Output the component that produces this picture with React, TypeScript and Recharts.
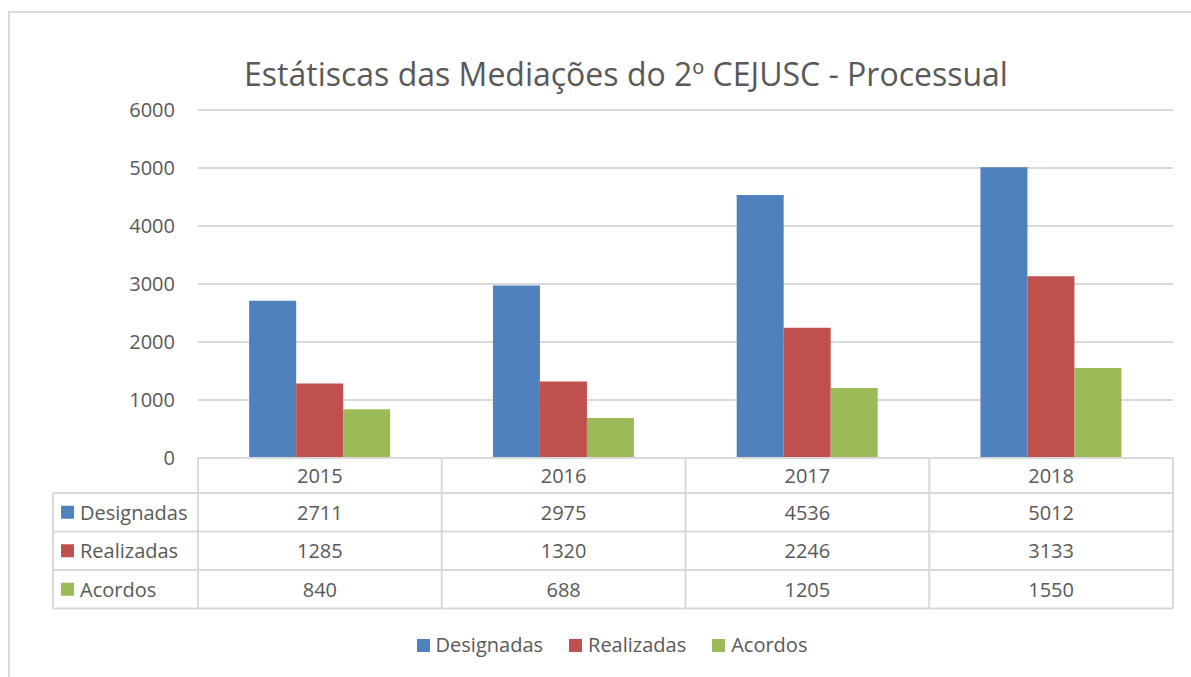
import React from 'react';
import { BarChart, Bar, XAxis, YAxis, CartesianGrid } from 'recharts';

const years = ['2015', '2016', '2017', '2018'];
const designadas = [2711, 2975, 4536, 5012];
const realizadas = [1285, 1320, 2246, 3133];
const acordos = [840, 688, 1205, 1550];
const yTicks = [0, 1000, 2000, 3000, 4000, 5000, 6000];

const SERIES = [
  { key: 'designadas', name: 'Designadas', color: '#4f81bd', values: designadas },
  { key: 'realizadas', name: 'Realizadas', color: '#c0504d', values: realizadas },
  { key: 'acordos', name: 'Acordos', color: '#9bbb59', values: acordos },
];

const data = years.map((year, i) => ({
  year,
  designadas: designadas[i],
  realizadas: realizadas[i],
  acordos: acordos[i],
}));

const FONT = "'Open Sans', Lato, sans-serif";
const TEXT = '#595959';
const LINE = '#d9d9d9';
const W = 1191;
const H = 677;
const PLOT_LEFT = 198;
const PLOT_RIGHT = 1173;
const COL_W = (PLOT_RIGHT - PLOT_LEFT) / years.length;
const HEADER_H = 35;
const ROW_H = 38.5;
const LABEL_LEFT = 53;
const FS = 20;

const TableTick = (props: any) => {
  const { x, y, payload, index } = props;
  const left = x - COL_W / 2;
  const right = x + COL_W / 2;
  const bottom = y + HEADER_H + ROW_H * SERIES.length;
  const rowTop = (r: number) => y + HEADER_H + ROW_H * r;
  return (
    <g>
      <line x1={right} y1={y} x2={right} y2={bottom} stroke={LINE} strokeWidth={2} />
      {index === 0 && <line x1={left} y1={y} x2={left} y2={bottom} stroke={LINE} strokeWidth={2} />}
      {SERIES.map((_, r) => (
        <line key={r} x1={left} y1={rowTop(r)} x2={right} y2={rowTop(r)} stroke={LINE} strokeWidth={2} />
      ))}
      <line x1={left} y1={bottom} x2={right} y2={bottom} stroke={LINE} strokeWidth={2} />
      <text x={x} y={y + HEADER_H / 2} textAnchor="middle" dominantBaseline="central" fill={TEXT} fontSize={FS} fontFamily={FONT}>
        {payload.value}
      </text>
      {SERIES.map((s, r) => (
        <text key={s.key} x={x} y={rowTop(r) + ROW_H / 2} textAnchor="middle" dominantBaseline="central" fill={TEXT} fontSize={FS} fontFamily={FONT}>
          {s.values[index]}
        </text>
      ))}
      {index === 0 && (
        <g>
          <line x1={LABEL_LEFT} y1={rowTop(0)} x2={LABEL_LEFT} y2={bottom} stroke={LINE} strokeWidth={2} />
          {SERIES.map((s, r) => (
            <g key={s.key}>
              <line x1={LABEL_LEFT} y1={rowTop(r)} x2={left} y2={rowTop(r)} stroke={LINE} strokeWidth={2} />
              <rect x={LABEL_LEFT + 8} y={rowTop(r) + ROW_H / 2 - 6.5} width={13} height={13} fill={s.color} />
              <text x={LABEL_LEFT + 27} y={rowTop(r) + ROW_H / 2} dominantBaseline="central" fill={TEXT} fontSize={FS} fontFamily={FONT}>
                {s.name}
              </text>
            </g>
          ))}
          <line x1={LABEL_LEFT} y1={bottom} x2={left} y2={bottom} stroke={LINE} strokeWidth={2} />
        </g>
      )}
    </g>
  );
};

export default function App() {
  return (
    <div style={{ position: 'fixed', left: 0, top: 0, width: W, height: H, overflow: 'hidden', background: '#fff', fontFamily: FONT }}>
      <div style={{ position: 'absolute', left: 8, top: 11, width: W, height: H, borderTop: `2px solid ${LINE}`, borderLeft: `2px solid ${LINE}` }} />
      <div style={{ position: 'absolute', left: 0, width: 1252, top: 51, textAlign: 'center', fontSize: 32, color: TEXT, lineHeight: '46px' }}>
        Estátiscas das Mediações do 2º CEJUSC - Processual
      </div>
      <div style={{ position: 'absolute', left: 0, top: 0 }}>
        <BarChart
          width={W}
          height={H}
          data={data}
          margin={{ top: 110, right: W - PLOT_RIGHT, left: PLOT_LEFT - 60, bottom: H - 458 - 151 }}
          barCategoryGap="21%"
          barGap={0}
        >
          <CartesianGrid vertical={false} stroke={LINE} strokeWidth={2} />
          <YAxis
            width={60}
            domain={[0, 6000]}
            ticks={yTicks}
            interval={0}
            axisLine={false}
            tickLine={false}
            tickSize={0}
            tickMargin={23}
            tick={{ fill: TEXT, fontSize: FS, fontFamily: FONT }}
          />
          <XAxis
            dataKey="year"
            height={151}
            interval={0}
            tickLine={false}
            tickSize={0}
            tickMargin={0}
            axisLine={{ stroke: LINE, strokeWidth: 2 }}
            tick={<TableTick />}
          />
          {SERIES.map((s) => (
            <Bar key={s.key} dataKey={s.key} name={s.name} fill={s.color} isAnimationActive={false} />
          ))}
        </BarChart>
      </div>
      <div style={{ position: 'absolute', left: 0, width: 1224, top: 631, display: 'flex', justifyContent: 'center', gap: 26, fontSize: FS, color: TEXT, lineHeight: '28px' }}>
        {SERIES.map((s) => (
          <div key={s.key} style={{ display: 'flex', alignItems: 'center' }}>
            <span style={{ display: 'inline-block', width: 13, height: 13, background: s.color, marginRight: 6 }} />
            <span>{s.name}</span>
          </div>
        ))}
      </div>
    </div>
  );
}
